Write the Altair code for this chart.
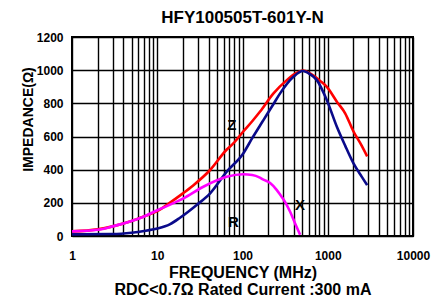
import altair as alt
import pandas as pd

# ---- data ----
z_freq = [1, 2, 3, 5, 7, 10, 14, 20, 26.4, 41.7, 65, 78, 102, 130, 160, 231, 331, 420, 510, 621, 815, 976, 1279, 1600, 2005, 2500, 2900]
z_val = [28, 40, 58, 90, 118, 150, 200, 257, 305, 398, 520, 558, 630, 692, 749, 860, 940, 980, 998, 980, 935, 899, 810, 740, 630, 545, 480]

r_freq = [1, 3, 5, 7, 10, 14, 18.5, 29, 41.7, 65, 102, 130, 160, 176, 231, 276, 396, 510, 621, 745, 976, 1279, 1600, 2005, 2500, 2900]
r_val = [10, 12, 20, 30, 45, 70, 110, 187, 257, 387, 498, 590, 665, 699, 796, 860, 960, 995, 975, 940, 819, 659, 545, 438, 358, 307]

x_freq = [1, 2, 3, 5, 7, 10, 15, 20, 34.7, 65, 102, 130, 160, 176, 211, 250, 276, 320, 362, 414, 474]
x_val = [28, 38, 58, 90, 118, 155, 195, 225, 297, 357, 372, 368, 352, 340, 320, 280, 250, 200, 146, 76, 8]

series_names = ["Z", "R", "X"]
series_colors = ["#ff0000", "#0a0a8a", "#ff00ff"]

label_text = ["Z", "R", "X"]
label_freq = [75, 78, 474]
label_val = [669, 86, 187]

title_text = "HFY100505T-601Y-N"
y_title = "IMPEDANCE(\u03a9)"
x_title = ["FREQUENCY (MHz)", "RDC<0.7\u03a9 Rated Current :300 mA"]
y_ticks = [0, 200, 400, 600, 800, 1000, 1200]
x_ticks = [m * 10 ** k for k in range(4) for m in range(1, 10)] + [10000]

rows = []
for name, fs, vs in [("Z", z_freq, z_val), ("R", r_freq, r_val), ("X", x_freq, x_val)]:
    for f, v in zip(fs, vs):
        rows.append({"series": name, "f": f, "v": v})
df = pd.DataFrame(rows)
labels = pd.DataFrame({"t": label_text, "f": label_freq, "v": label_val})
title_df = pd.DataFrame({"t": [title_text]})

FONT = "Liberation Sans"
W, H = 341, 199

xscale = alt.Scale(type="log", domain=[1, 10000], nice=False)
yscale = alt.Scale(domain=[0, 1200], nice=False)

xaxis = alt.Axis(
    values=x_ticks,
    format="d",
    labelExpr="(datum.value == 1 || datum.value == 10 || datum.value == 100 || datum.value == 1000 || datum.value == 10000) ? datum.label : ''",
    labelOverlap=False,
    labelFlush=False,
    labelFont=FONT, labelFontSize=12, labelFontWeight="bold", labelColor="black",
    labelPadding=14,
    ticks=False, domain=False,
    grid=True, gridColor="black", gridWidth=1.4, gridOpacity=1,
    title=x_title,
    titleFont=FONT, titleFontSize=16, titleFontWeight="bold", titleColor="black",
    titleLineHeight=17, titleBaseline="top", titleY=28,
)
yaxis = alt.Axis(
    values=y_ticks,
    format="d",
    labelFont=FONT, labelFontSize=12, labelFontWeight="bold", labelColor="black",
    labelPadding=9,
    ticks=False, domain=False,
    grid=True, gridColor="black", gridWidth=1.4, gridOpacity=1,
    title=y_title,
    titleFont=FONT, titleFontSize=14, titleFontWeight="bold", titleColor="black",
    titleAngle=-90, titleAlign="center", titleBaseline="middle",
    titleX=-44, titleY=82,
)

enc_x = alt.X("f:Q", scale=xscale, axis=xaxis)
enc_y = alt.Y("v:Q", scale=yscale, axis=yaxis)

layers = []
for name, col in zip(series_names, series_colors):
    layers.append(
        alt.Chart(df).transform_filter(alt.datum.series == name)
        .mark_line(color=col, strokeWidth=2.6, interpolate="monotone")
        .encode(x=enc_x, y=enc_y)
    )

text_layer = alt.Chart(labels).mark_text(
    font=FONT, fontSize=15, fontWeight="bold", color="black"
).encode(x=enc_x, y=enc_y, text="t:N")

title_layer = alt.Chart(title_df).mark_text(
    font=FONT, fontSize=17, fontWeight="bold", color="black",
    align="center", baseline="alphabetic",
).encode(x=alt.value(W / 2), y=alt.value(-14), text="t:N")

chart = alt.layer(*layers, text_layer, title_layer).properties(
    width=W,
    height=H,
    background="white",
    autosize=alt.AutoSizeParams(type="none"),
    padding={"left": 64, "top": 29, "right": 22, "bottom": 60},
).configure_view(stroke="black", strokeWidth=2)

chart.save("out.html", embed_options={"renderer": "svg", "actions": False})
